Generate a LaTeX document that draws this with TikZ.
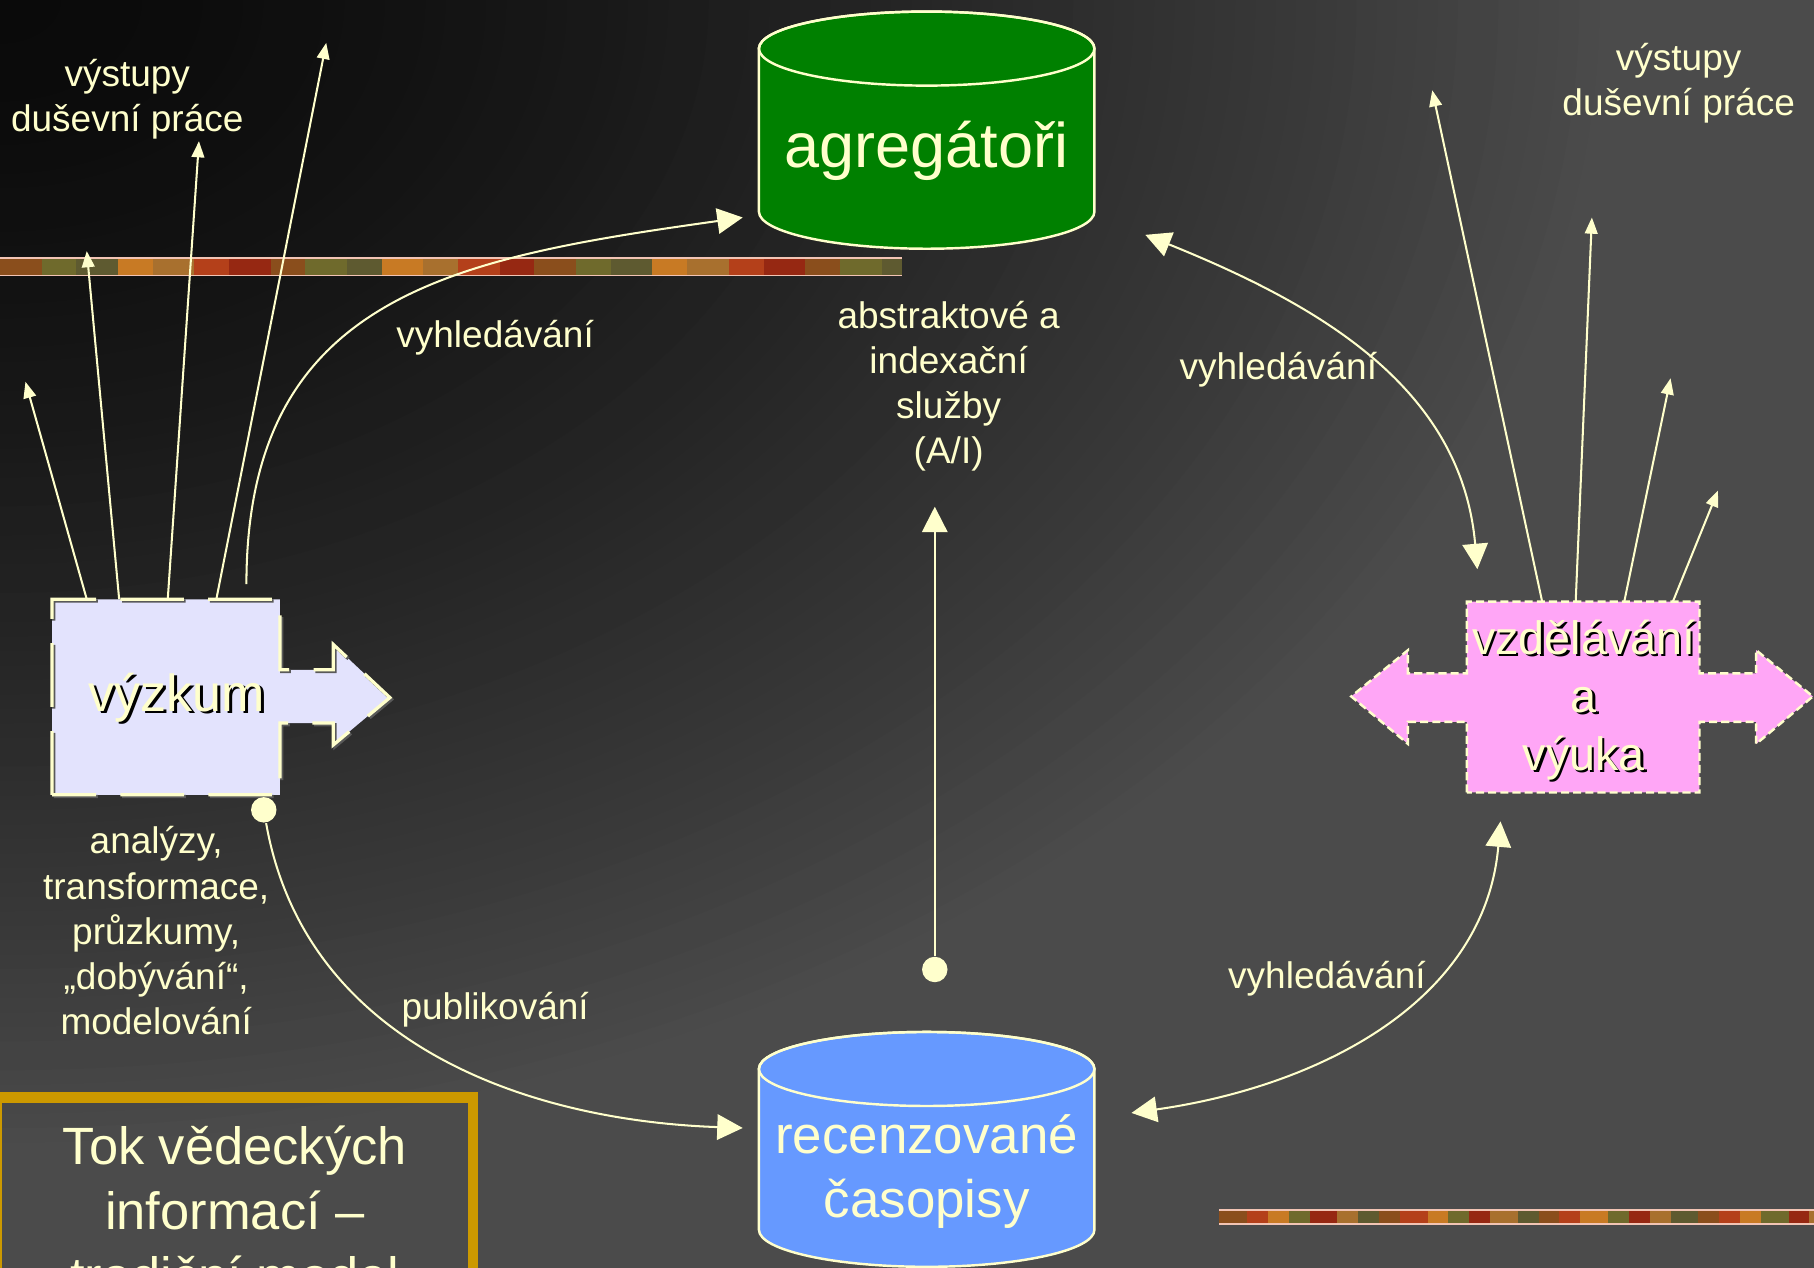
\documentclass[tikz,border=0pt]{standalone}
\usepackage{fontspec}
\setmainfont{Liberation Sans}
\usetikzlibrary{arrows.meta}

\definecolor{txtyellow}{HTML}{FFFFCC}
\definecolor{bgdark}{HTML}{0A0A0A}
\definecolor{bglight}{HTML}{4B4B4B}
\definecolor{agggreen}{HTML}{008000}
\definecolor{recblue}{HTML}{6699FF}
\definecolor{vyzlav}{HTML}{E3E3FD}
\definecolor{edupink}{HTML}{FFA6F6}
\definecolor{titlegold}{HTML}{CC9900}
\definecolor{stripe0}{HTML}{8A4E1C}
\definecolor{stripe1}{HTML}{B4401A}
\definecolor{stripe2}{HTML}{C87A24}
\definecolor{stripe3}{HTML}{6F6A2C}
\definecolor{stripe4}{HTML}{962812}
\definecolor{stripe5}{HTML}{A8702E}
\definecolor{stripe6}{HTML}{5E5A30}
\definecolor{stripeedge}{HTML}{F2C4B4}

\tikzset{
  lbl/.style={text=txtyellow, font=\fontsize{9.1}{11.1}\selectfont, align=center, inner sep=0pt},
  conn/.style={draw=txtyellow, line width=0.5pt, -{Triangle[length=2.2mm,width=2.2mm]}},
  conntwo/.style={draw=txtyellow, line width=0.5pt, {Triangle[length=2.2mm,width=2.2mm]}-{Triangle[length=2.2mm,width=2.2mm]}},
  fan/.style={draw=txtyellow, line width=0.5pt, -{Triangle[length=1.4mm,width=1.1mm]}},
  dot/.style={circle, fill=txtyellow, inner sep=0pt, minimum size=2.2mm},
  cyl/.style={draw=txtyellow, line width=0.6pt},
}

\begin{document}
\begin{tikzpicture}
\clip (0,0) rectangle (15.68,10.96);
% background
\fill[bglight] (0,0) rectangle (15.68,10.96);
\foreach \k in {80,79,...,1}{
  \pgfmathtruncatemacro\p{100*(\k/80)^1.5}
  \fill[bglight!\p!bgdark] (0,10.96) ellipse [x radius=0.175*\k, y radius=0.125*\k];
}

% stripes
\foreach \n in {0,...,129}{
  \pgfmathtruncatemacro\m{mod(\n*5+mod(\n*13,11),7)}
  \fill[stripe\m] (0.06*\n,8.58) rectangle ++(0.06,0.15);
}
\draw[stripeedge, line width=0.4pt] (0,8.73) -- (7.80,8.73) (0,8.58) -- (7.80,8.58);
\foreach \n in {0,...,86}{
  \pgfmathtruncatemacro\m{mod(\n*3+mod(\n*17,13),7)}
  \fill[stripe\m] (10.54+0.06*\n,0.38) rectangle ++(0.06,0.12);
}
\draw[stripeedge, line width=0.4pt] (10.54,0.50) -- (15.68,0.50) (10.54,0.38) -- (15.68,0.38);

% cylinders
\draw[cyl, fill=agggreen] (6.56,10.54) -- (6.56,9.13) arc[start angle=180, end angle=360, x radius=1.45, y radius=0.32]
  -- (9.46,10.54) arc[start angle=0, end angle=180, x radius=1.45, y radius=0.32] -- cycle;
\draw[cyl] (8.01,10.54) ellipse [x radius=1.45, y radius=0.32];
\draw[cyl, fill=recblue] (6.56,1.72) -- (6.56,0.33) arc[start angle=180, end angle=360, x radius=1.45, y radius=0.32]
  -- (9.46,1.72) arc[start angle=0, end angle=180, x radius=1.45, y radius=0.32] -- cycle;
\draw[cyl] (8.01,1.72) ellipse [x radius=1.45, y radius=0.32];

% fans of outputs
\foreach \bx/\tx/\ty [count=\i] in {0.75/0.22/7.66, 1.03/0.75/8.79, 1.45/1.72/9.74, 1.87/2.82/10.59}{
  \coordinate (vyzFan\i) at (\bx,5.78);
  \coordinate (vyzOut\i) at (\tx,\ty);
  \draw[fan] (vyzFan\i) -- (vyzOut\i);
}
\foreach \bx/\tx/\ty [count=\i] in {13.33/12.38/10.18, 13.62/13.76/9.08, 14.04/14.44/7.69, 14.46/14.85/6.72}{
  \coordinate (eduFan\i) at (\bx,5.76);
  \coordinate (eduOut\i) at (\tx,\ty);
  \draw[fan] (eduFan\i) -- (eduOut\i);
}

% research box with arrow
\path[fill=vyzlav,
  postaction={draw=black!65, line width=0.8pt, dash pattern=on 5.5mm off 2.1mm, transform canvas={shift={(0.015,-0.015)}}},
  postaction={draw=txtyellow, line width=0.8pt, dash pattern=on 5.5mm off 2.1mm}]
  (0.45,4.09) -- (0.45,5.78) -- (2.42,5.78) -- (2.42,5.17) -- (2.88,5.17) -- (2.88,5.39) -- (3.37,4.93)
  -- (2.88,4.52) -- (2.88,4.71) -- (2.42,4.71) -- (2.42,4.09) -- cycle;

% education box with double arrow
\draw[txtyellow, fill=edupink, line width=0.6pt, dash pattern=on 0.7mm off 0.35mm]
  (12.68,4.11) -- (12.68,4.72) -- (12.17,4.72) -- (12.17,4.53) -- (11.68,4.94) -- (12.17,5.34) -- (12.17,5.14)
  -- (12.68,5.14) -- (12.68,5.76) -- (14.69,5.76) -- (14.69,5.14) -- (15.18,5.14) -- (15.18,5.34) -- (15.67,4.94)
  -- (15.18,4.53) -- (15.18,4.72) -- (14.69,4.72) -- (14.69,4.11) -- cycle;

% title frame
\draw[titlegold, line width=0.09cm] (-0.03,-0.5) rectangle (4.09,1.475);

% texts
\node[text=txtyellow, font=\fontsize{15.5}{18}\selectfont] (agg) at (8.01,9.66) {agregátoři};
\node[text=txtyellow, font=\fontsize{13}{15.6}\selectfont, align=center] (rec) at (8.01,0.835) {recenzované\\časopisy};
\node[text=black, font=\fontsize{12.8}{15}\selectfont] (vyzShadow) at (1.55,4.91) {výzkum};
\node[text=txtyellow, font=\fontsize{12.8}{15}\selectfont] (vyz) at (1.53,4.93) {výzkum};
\node[text=black, font=\fontsize{11.5}{14.2}\selectfont, align=center] (eduShadow) at (13.71,4.89) {vzdělávání\\a\\výuka};
\node[text=txtyellow, font=\fontsize{11.5}{14.2}\selectfont, align=center] (edu) at (13.69,4.91) {vzdělávání\\a\\výuka};
\node[text=txtyellow, font=\fontsize{12.9}{16}\selectfont, align=center] (title) at (2.03,0.50) {Tok vědeckých\\informací –\\tradiční model};

\node[lbl] (outL) at (1.10,10.10) {výstupy\\duševní práce};
\node[lbl] (outR) at (14.51,10.24) {výstupy\\duševní práce};
\node[lbl] (searchL) at (4.28,8.04) {vyhledávání};
\node[lbl] (searchR) at (11.05,7.76) {vyhledávání};
\node[lbl] (searchB) at (11.47,2.50) {vyhledávání};
\node[lbl] (ais) at (8.20,7.62) {abstraktové a\\indexační\\služby\\(A/I)};
\node[lbl] (methods) at (1.35,2.915) {analýzy,\\transformace,\\průzkumy,\\„dobývání“,\\modelování};
\node[lbl] (publ) at (4.28,2.23) {publikování};

% connectors
\node[dot] (resDot) at (2.28,3.96) {};
\node[dot] (recDot) at (8.08,2.58) {};
\coordinate (resOut) at (2.13,5.91);
\coordinate (aggIn) at (6.42,9.08);
\coordinate (recIn) at (6.42,1.21);
\coordinate (aisIn) at (8.08,6.58);
\coordinate (aggOut) at (9.90,8.93);
\coordinate (eduTop) at (12.77,6.04);
\coordinate (recOut) at (9.78,1.34);
\coordinate (eduBot) at (12.97,3.86);

\draw[conn] (resOut) to[out=90, in=188, looseness=1.2] (aggIn);
\draw[conn] (resDot) to[out=-80, in=178] (recIn);
\draw[conn] (recDot) -- (aisIn);
\draw[conntwo] (aggOut) to[out=-22, in=95] (eduTop);
\draw[conntwo] (recOut) to[out=8, in=-95] (eduBot);
\end{tikzpicture}
\end{document}
